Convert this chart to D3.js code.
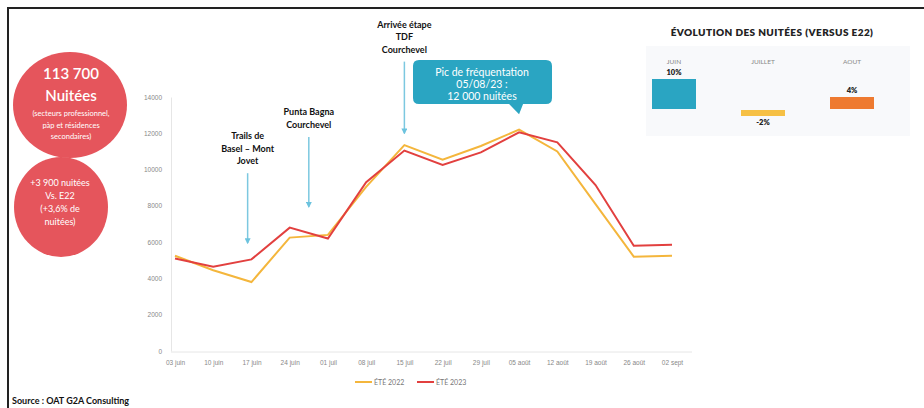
<!DOCTYPE html>
<html>
<head>
<meta charset="utf-8">
<script src="https://cdn.jsdelivr.net/npm/d3@7"></script>
<style>
body{margin:0;background:#fff;}
svg{display:block;font-family:Lato,"Open Sans",sans-serif;}
</style>
</head>
<body>
<svg id="chart" width="924" height="408"></svg>
<script>
// semaines (x) et nuitées par semaine
const weeks=["03 juin","10 juin","17 juin","24 juin","01 juil","08 juil","15 juil","22 juil","29 juil","05 août","12 août","19 août","26 août","02 sept"];
const ete2022=[5250,4450,3800,6250,6400,9050,11350,10550,11300,12200,11000,8100,5200,5250];
const ete2023=[5100,4650,5050,6800,6200,9300,11050,10250,10950,12050,11500,9150,5800,5850];
const yTicks=[0,2000,4000,6000,8000,10000,12000,14000];
const seriesNames=["ÉTÉ 2022","ÉTÉ 2023"];

// évolution mensuelle vs E22
const months=["JUIN","JUILLET","AOUT"];
const monthEvol=[10,-2,4];

// événements annotés (position en index de semaine)
const events=[
  {idx:1.9,lines:["Trails de","Basel – Mont","Jovet"],top:9800,bottom:5950},
  {idx:3.5,lines:["Punta Bagna","Courchevel"],top:11800,bottom:7950},
  {idx:6.0,lines:["Arrivée étape","TDF","Courchevel"],top:15950,bottom:12000}
];
const peakLines=["Pic de fréquentation","05/08/23 :","12 000 nuitées"];

const colYellow="#f4b63c", colRed="#e2403f", colBlue="#2aa5c2", colCircle="#e5555c";

const svg=d3.select("#chart");

// cadre
svg.append("rect").attr("x",8).attr("y",8).attr("width",940).attr("height",420)
  .attr("fill","#fff").attr("stroke","#222").attr("stroke-width",2);

const x=d3.scaleLinear().domain([0,weeks.length-1]).range([175,672]);
const y=d3.scaleLinear().domain([0,14000]).range([351,97]);

// axes
const gy=svg.append("g").attr("transform","translate(171,0)")
  .call(d3.axisLeft(y).tickValues(yTicks).tickSize(0).tickPadding(9).tickFormat(d=>d));
gy.select(".domain").attr("stroke","#e6e6e6");
gy.selectAll("text").attr("fill","#888").style("font-size","6.5px");

const gx=svg.append("g").attr("transform","translate(0,352)")
  .call(d3.axisBottom(x).tickValues(d3.range(weeks.length)).tickSize(0).tickPadding(8).tickFormat(i=>weeks[i]));
gx.select(".domain").attr("stroke","#e6e6e6").attr("d","M171,0H692");
gx.selectAll("text").attr("fill","#888").style("font-size","6.5px");

// courbes
const line=d3.line().x((d,i)=>x(i)).y(d=>y(d));
svg.append("path").datum(ete2022).attr("d",line).attr("fill","none").attr("stroke",colYellow).attr("stroke-width",2);
svg.append("path").datum(ete2023).attr("d",line).attr("fill","none").attr("stroke",colRed).attr("stroke-width",2);

// légende
const leg=[[355,colYellow,seriesNames[0]],[417,colRed,seriesNames[1]]];
leg.forEach(([lx,c,t])=>{
  svg.append("line").attr("x1",lx).attr("x2",lx+17).attr("y1",382).attr("y2",382).attr("stroke",c).attr("stroke-width",2);
  svg.append("text").attr("x",lx+19).attr("y",384.5).text(t).attr("fill","#777").style("font-size","7px");
});

// flèches + libellés
const defs=svg.append("defs");
defs.append("marker").attr("id","arr").attr("viewBox","0 0 10 10").attr("refX",8).attr("refY",5)
  .attr("markerWidth",4).attr("markerHeight",4).attr("orient","auto")
  .append("path").attr("d","M0,0L10,5L0,10z").attr("fill","#6cc3de");
events.forEach(e=>{
  const ex=x(e.idx);
  svg.append("line").attr("x1",ex).attr("x2",ex).attr("y1",y(e.top)).attr("y2",y(e.bottom))
    .attr("stroke","#7cc8e0").attr("stroke-width",1.5).attr("marker-end","url(#arr)");
  const n=e.lines.length;
  e.lines.forEach((t,k)=>{
    svg.append("text").attr("x",ex).attr("y",y(e.top)-9-(n-1-k)*12.5).attr("text-anchor","middle")
      .text(t).attr("fill","#111").style("font-size","9px").style("font-weight","700");
  });
});

// bulle pic
const peakX=x(9), peakY=y(12000);
svg.append("path")
  .attr("d",`M419,60H546Q552,60 552,66V98Q552,104 546,104H${peakX+4}L${peakX},${peakY-19}L${peakX-10},104H419Q413,104 413,98V66Q413,60 419,60Z`)
  .attr("fill",colBlue);
peakLines.forEach((t,k)=>{
  svg.append("text").attr("x",482).attr("y",76+k*12).attr("text-anchor","middle")
    .text(t).attr("fill","#fff").style("font-size","10.5px");
});

// cercles de gauche
svg.append("ellipse").attr("cx",70).attr("cy",105).attr("rx",57).attr("ry",53).attr("fill",colCircle);
svg.append("ellipse").attr("cx",61).attr("cy",207).attr("rx",47).attr("ry",50).attr("fill",colCircle);
const ctext=(cx,cy,t,fs,fw)=>svg.append("text").attr("x",cx).attr("y",cy).attr("text-anchor","middle")
  .text(t).attr("fill","#fff").style("font-size",fs+"px").style("font-weight",fw);
ctext(71,79,"113 700",15,600);
ctext(71,101,"Nuitées",15,600);
ctext(71,116,"(secteurs professionnel,",7.5,400);
ctext(71,128,"pàp et résidences",7.5,400);
ctext(71,139,"secondaires)",7.5,400);
ctext(60,186,"+3 900 nuitées",9,400);
ctext(60,199,"Vs. E22",9,400);
ctext(60,212,"(+3,6% de",9,400);
ctext(60,225,"nuitées)",9,400);

// mini histogramme évolution
svg.append("rect").attr("x",646).attr("y",46).attr("width",264).attr("height",90).attr("fill","#f8f9fb");
svg.append("text").attr("x",772).attr("y",36).attr("text-anchor","middle").text("ÉVOLUTION DES NUITÉES (VERSUS E22)")
  .attr("fill","#222").style("font-size","10px").style("font-weight","800").style("letter-spacing","0.4px");
const mx=d3.scalePoint().domain(months).range([674,852]);
const my=d3.scaleLinear().domain([0,10]).range([109,79]);
const mcol=[colBlue,"#f6c044","#ee7a30"];
months.forEach((m,i)=>{
  const v=monthEvol[i], cx=mx(m);
  svg.append("text").attr("x",cx).attr("y",64).attr("text-anchor","middle").text(m).attr("fill","#888").style("font-size","6.5px");
  svg.append("rect").attr("x",cx-22).attr("width",44)
    .attr("y",v>=0?my(v):my(0)+1).attr("height",Math.abs(my(v)-my(0))).attr("fill",mcol[i]);
  svg.append("text").attr("x",cx).attr("y",v>=0?my(v)-4:my(v)+10).attr("text-anchor","middle")
    .text(v+"%").attr("fill","#222").style("font-size","7.5px").style("font-weight","800");
});

// source
svg.append("text").attr("x",12).attr("y",404).text("Source : OAT G2A Consulting")
  .attr("fill","#111").style("font-size","9px").style("font-weight","700");
</script>
</body>
</html>
